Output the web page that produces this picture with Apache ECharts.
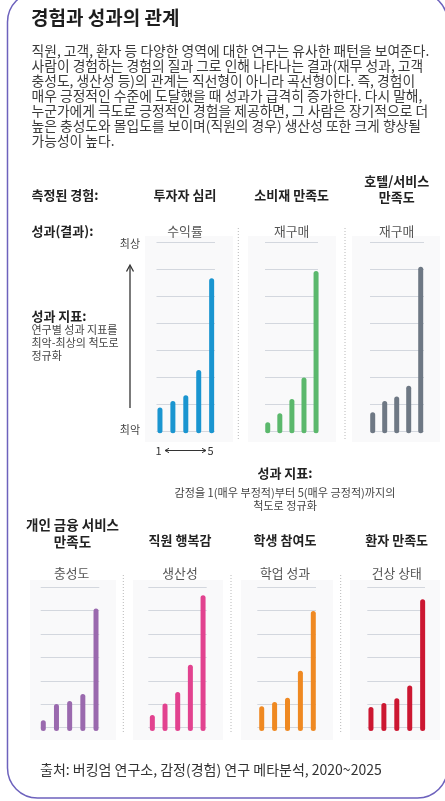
<!DOCTYPE html>
<html><head><meta charset="utf-8">
<script src="https://cdn.jsdelivr.net/npm/echarts@6/dist/echarts.min.js"></script>
<style>html,body{margin:0;padding:0;background:#fff}#c{width:445px;height:801px}</style>
</head><body><div id="c"></div>
<script>
// ---- data ----
const ratings = ['1', '2', '3', '4', '5'];
const titleText = '경험과 성과의 관계';
const introLines = [
  '직원, 고객, 환자 등 다양한 영역에 대한 연구는 유사한 패턴을 보여준다.',
  '사람이 경험하는 경험의 질과 그로 인해 나타나는 결과(재무 성과, 고객',
  '충성도, 생산성 등)의 관계는 직선형이 아니라 곡선형이다. 즉, 경험이',
  '매우 긍정적인 수준에 도달했을 때 성과가 급격히 증가한다. 다시 말해,',
  '누군가에게 극도로 긍정적인 경험을 제공하면, 그 사람은 장기적으로 더',
  '높은 충성도와 몰입도를 보이며(직원의 경우) 생산성 또한 크게 향상될',
  '가능성이 높다.'
];
const topExperiences = ['투자자 심리', '소비재 만족도', '호텔/서비스\n만족도'];
const topOutcomes = ['수익률', '재구매', '재구매'];
const investorReturns = [0.96, 1.20, 1.41, 2.34, 5.74];
const consumerRepurchase = [0.41, 0.74, 1.27, 2.07, 6.01];
const hotelRepurchase = [0.78, 1.20, 1.36, 1.76, 6.17];
const bottomExperiences = ['개인 금융 서비스\n만족도', '직원 행복감', '학생 참여도', '환자 만족도'];
const bottomOutcomes = ['충성도', '생산성', '학업 성과', '건상 상태'];
const financeLoyalty = [0.46, 1.15, 1.28, 1.58, 5.24];
const employeeProductivity = [0.68, 1.18, 1.67, 2.83, 5.80];
const studentAchievement = [1.06, 1.24, 1.42, 2.58, 5.13];
const patientHealth = [1.03, 1.20, 1.40, 1.94, 5.63];
const topGridTicks = [0, 1, 2, 3, 4, 5, 6, 7];
const bottomGridTicks = [0, 1, 2, 3, 4, 5, 6];
const sourceText = '출처: 버킹엄 연구소, 감정(경험) 연구 메타분석, 2020~2025';

// ---- layout / style ----
const FONT = '"Noto Sans CJK KR", "Noto Sans", sans-serif';
const topSeries = [investorReturns, consumerRepurchase, hotelRepurchase];
const bottomSeries = [financeLoyalty, employeeProductivity, studentAchievement, patientHealth];
const topColors = ['#1a95d0', '#5bb86c', '#6e7884'];
const bottomColors = ['#9a69ae', '#e2428f', '#ef8922', '#cc1731'];

const panels = [
  {data: topSeries[0], color: topColors[0], ticks: topGridTicks, gl: [156.5, 215], bl: [153.5, 64.6], gy: [242.7, 431.7], by: 433.3, ppu: 27, bg: [145, 236, 88, 206]},
  {data: topSeries[1], color: topColors[1], ticks: topGridTicks, gl: [265, 318], bl: [261.7, 60.4], gy: [242.7, 431.7], by: 433.3, ppu: 27, bg: [248, 236, 88, 206]},
  {data: topSeries[2], color: topColors[2], ticks: topGridTicks, gl: [370, 424], bl: [366.7, 60], gy: [242.7, 431.7], by: 433.3, ppu: 27, bg: [352, 236, 88, 206]},
  {data: bottomSeries[0], color: bottomColors[0], ticks: bottomGridTicks, gl: [40.7, 99.3], bl: [36.7, 65.9], gy: [587.3, 727.7], by: 731, ppu: 23.4, bg: [30, 580, 86, 160]},
  {data: bottomSeries[1], color: bottomColors[1], ticks: bottomGridTicks, gl: [148.3, 206.7], bl: [146, 63.4], gy: [587.3, 727.7], by: 731, ppu: 23.4, bg: [133, 580, 90, 160]},
  {data: bottomSeries[2], color: bottomColors[2], ticks: bottomGridTicks, gl: [257.3, 316], bl: [255.25, 64.5], gy: [587.3, 727.7], by: 731, ppu: 23.4, bg: [241, 580, 92, 160]},
  {data: bottomSeries[3], color: bottomColors[3], ticks: bottomGridTicks, gl: [367.3, 425], bl: [364.5, 64.6], gy: [587.3, 727.7], by: 731, ppu: 23.4, bg: [350, 580, 90, 160]}
];

const grid = [], xAxis = [], yAxis = [], series = [];
panels.forEach((p) => {
  const max = p.ticks[p.ticks.length - 1];
  // faint panel background
  const ki = grid.length;
  grid.push({left: p.bg[0], top: p.bg[1], width: p.bg[2], height: p.bg[3], show: true,
    backgroundColor: '#f9f9fa', borderWidth: 0, z: 0, containLabel: false});
  xAxis.push({gridIndex: ki, type: 'category', data: ratings, show: false});
  yAxis.push({gridIndex: ki, type: 'value', min: 0, max: max, show: false, splitLine: {show: false}});
  // guide lines
  const gi = grid.length;
  grid.push({left: p.gl[0], width: p.gl[1] - p.gl[0], top: p.gy[0], height: p.gy[1] - p.gy[0], containLabel: false});
  xAxis.push({gridIndex: gi, type: 'category', data: ratings, show: false});
  yAxis.push({gridIndex: gi, type: 'value', min: 0, max: max, show: false, splitLine: {show: false}});
  series.push({type: 'line', xAxisIndex: gi, yAxisIndex: gi, data: ratings.map(() => 0), silent: true,
    symbol: 'none', lineStyle: {opacity: 0}, z: 3, animation: false,
    markLine: {silent: true, symbol: ['none', 'none'], label: {show: false}, animation: false,
      lineStyle: {type: 'solid', color: '#d3d7de', width: 1},
      emphasis: {disabled: true},
      data: p.ticks.map(v => ({yAxis: v}))}});
  // bars
  const bi = grid.length;
  const h = max * p.ppu;
  grid.push({left: p.bl[0], width: p.bl[1], top: p.by - h, height: h, containLabel: false});
  xAxis.push({gridIndex: bi, type: 'category', data: ratings, show: false, boundaryGap: true});
  yAxis.push({gridIndex: bi, type: 'value', min: 0, max: max, show: false, splitLine: {show: false}});
  series.push({type: 'bar', xAxisIndex: bi, yAxisIndex: bi, data: p.data, barWidth: 5, z: 6,
    itemStyle: {color: p.color, borderRadius: 2.5}, silent: true, animation: false});
});

function txt(text, x, y, size, weight, color, align) {
  return {type: 'text', x: x, y: y, silent: true, z: 10,
    style: {text: text, fill: color, font: (weight || 'normal') + ' ' + size + 'px ' + FONT,
      fontSize: size, fontWeight: weight || 'normal', fontFamily: FONT,
      align: align || 'left', textAlign: align || 'left', verticalAlign: 'middle', textVerticalAlign: 'middle',
      lineHeight: size + 3}};
}
function line(x1, y1, x2, y2, color, w, dash) {
  return {type: 'line', silent: true, z: 5, shape: {x1: x1, y1: y1, x2: x2, y2: y2},
    style: {stroke: color, lineWidth: w, lineDash: dash || null}};
}
function poly(points, color, w) {
  return {type: 'polyline', silent: true, z: 5, shape: {points: points}, style: {stroke: color, lineWidth: w, fill: null}};
}

const g = [];
g.push({type: 'rect', silent: true, z: 1, shape: {x: 7.5, y: -8, width: 440, height: 806, r: 30},
  style: {fill: null, stroke: '#6d62bd', lineWidth: 1.5}});

g.push(txt(titleText, 31, 18, 19, 'bold', '#1e1e1e'));
introLines.forEach((l, i) => g.push(txt(l, 31.5, 50.7 + i * 15, 13.8, 'normal', '#3a3a3a')));

g.push(txt('측정된 경험:', 31.5, 195, 13, 'bold', '#222'));
g.push(txt(topExperiences[0], 185, 195, 13, 'bold', '#222', 'center'));
g.push(txt(topExperiences[1], 291.7, 195, 13, 'bold', '#222', 'center'));
g.push(txt(topExperiences[2], 396.7, 189, 13, 'bold', '#222', 'center'));
g.push(txt('성과(결과):', 31.5, 230.7, 13, 'bold', '#222'));
g.push(txt(topOutcomes[0], 185, 230.7, 12.8, 'normal', '#555', 'center'));
g.push(txt(topOutcomes[1], 291.7, 230.7, 12.8, 'normal', '#555', 'center'));
g.push(txt(topOutcomes[2], 396.7, 230.7, 12.8, 'normal', '#555', 'center'));

g.push(txt('최상', 140, 243.5, 11, 'normal', '#444', 'right'));
g.push(txt('최악', 140, 429.5, 11, 'normal', '#444', 'right'));
g.push(line(130, 408, 130, 266, '#333', 1.3));
g.push(poly([[126.5, 271.5], [130, 265], [133.5, 271.5]], '#333', 1.3));
g.push(txt('성과 지표:', 31.5, 316.5, 13, 'bold', '#222'));
g.push(txt('연구별 성과 지표를', 31.5, 329.5, 11, 'normal', '#444'));
g.push(txt('최악-최상의 척도로', 31.5, 342.8, 11, 'normal', '#444'));
g.push(txt('정규화', 31.5, 356, 11, 'normal', '#444'));

g.push(txt(ratings[0], 158.5, 450.5, 11, 'normal', '#333', 'center'));
g.push(txt(ratings[4], 210.5, 450.5, 11, 'normal', '#333', 'center'));
g.push(line(165, 450.5, 206, 450.5, '#333', 1));
g.push(poly([[169, 448.3], [165, 450.5], [169, 452.7]], '#333', 1));
g.push(poly([[202, 448.3], [206, 450.5], [202, 452.7]], '#333', 1));
g.push(txt('성과 지표:', 285, 473.5, 13, 'bold', '#222', 'center'));
g.push(txt('감정을 1(매우 부정적)부터 5(매우 긍정적)까지의', 285, 492.7, 11.1, 'normal', '#444', 'center'));
g.push(txt('척도로 정규화', 285, 505.5, 11.1, 'normal', '#444', 'center'));

[238.3, 345].forEach(x => g.push(line(x, 228, x, 440, '#b8b8b8', 1, [1, 2])));
[123.3, 231, 340.7].forEach(x => g.push(line(x, 575, x, 732, '#b8b8b8', 1, [1, 2])));

g.push(txt(bottomExperiences[0], 72.5, 533.3, 13.5, 'bold', '#222', 'center'));
g.push(txt(bottomExperiences[1], 180, 540, 13, 'bold', '#222', 'center'));
g.push(txt(bottomExperiences[2], 285, 540, 13, 'bold', '#222', 'center'));
g.push(txt(bottomExperiences[3], 396.7, 540, 13, 'bold', '#222', 'center'));
g.push(txt(bottomOutcomes[0], 71.7, 572.7, 12.8, 'normal', '#555', 'center'));
g.push(txt(bottomOutcomes[1], 180, 572.7, 12.8, 'normal', '#555', 'center'));
g.push(txt(bottomOutcomes[2], 285, 572.7, 12.8, 'normal', '#555', 'center'));
g.push(txt(bottomOutcomes[3], 396.7, 572.7, 12.8, 'normal', '#555', 'center'));

g.push(txt(sourceText, 40, 770, 14, 'normal', '#333'));

const chart = echarts.init(document.getElementById('c'), null, {renderer: 'canvas'});
chart.setOption({
  animation: false,
  backgroundColor: '#ffffff',
  grid: grid, xAxis: xAxis, yAxis: yAxis, series: series,
  graphic: {elements: g}
});
</script></body></html>
